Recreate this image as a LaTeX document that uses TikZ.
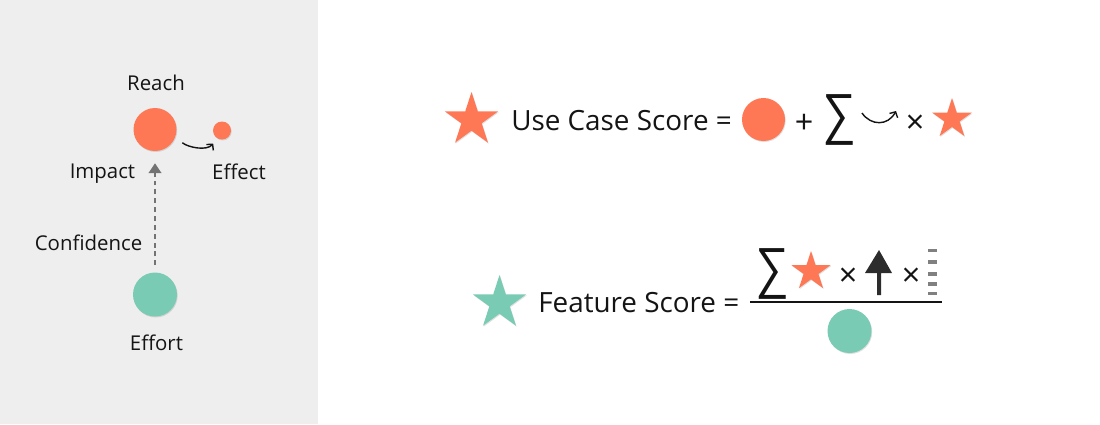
\documentclass[tikz,border=0pt]{standalone}
\usepackage{fontspec}
\setmainfont{Open Sans}
\usetikzlibrary{shapes.geometric,arrows.meta,shadows}
\definecolor{coral}{HTML}{FF7856}
\definecolor{mint}{HTML}{7ACBB3}
\definecolor{panel}{HTML}{EEEEEE}
\definecolor{ink}{HTML}{141414}
\newlength\px
\setlength\px{0.025cm}
\tikzset{
	softshadow/.style={drop shadow={shadow xshift=0.5pt,shadow yshift=-0.7pt,opacity=0.25}},
	dot/.style={circle,fill=#1,inner sep=0pt,softshadow},
	starmark/.style={star,star points=5,star point ratio=2.62,fill=#1,inner sep=0pt,softshadow},
	lbl/.style={font=\fontsize{14.5}{17}\selectfont,text=ink,inner sep=0pt},
	eqtext/.style={font=\fontsize{19.8}{23}\selectfont,text=ink,inner sep=0pt},
	opsign/.style={font=\fontsize{23}{26}\selectfont,text=ink,inner sep=0pt,anchor=base},
	sumsign/.style={font=\fontsize{32}{36}\selectfont,text=ink,inner sep=0pt,yscale=1.18,xscale=1.05},
	swing/.style={draw=ink,line width=1pt,-{Straight Barb[length=3pt,width=6.5pt]}}
}
\begin{document}
\begin{tikzpicture}[x=0.025cm,y=-0.025cm]
	\useasboundingbox (0,0) rectangle (1100,424);
	\fill[panel] (0,0) rectangle (318,424);
	\node[dot=coral,minimum size=43\px] (reach) at (155,129.5) {};
	\node[dot=coral,minimum size=18\px] (effect) at (222,130.5) {};
	\node[dot=mint,minimum size=44\px] (effort) at (155,294.5) {};
	\node[lbl] (reachlbl) at (156,83) {Reach};
	\node[lbl] (impactlbl) at (102.5,174) {Impact};
	\node[lbl] (effectlbl) at (239,172) {Effect};
	\node[lbl] (conflbl) at (88.5,243) {Confidence};
	\node[lbl] (effortlbl) at (156.5,343) {Effort};
	\draw[draw=black!55,line width=1.4pt,dash pattern=on 3.5pt off 2.8pt,shorten <=7\px,shorten >=12\px,-{Triangle[length=7pt,width=9pt]}] (effort) -- (reach);
	\draw[swing,shorten <=9\px,shorten >=6.5\px] (reach.-20) to[out=-40,in=-130] (effect.-120);
	\node[starmark=coral,minimum size=56\px] (ucstar) at (471.5,120) {};
	\node[eqtext,anchor=base west] (uctext) at (511,130) {Use Case Score =};
	\node[dot=coral,minimum size=43\px] (ucreach) at (763.5,119.5) {};
	\node[opsign] (ucplus) at (804,133) {+};
	\node[sumsign] (ucsum) at (839,120) {∑};
	\draw[swing] (862,113) .. controls (871,126) and (888,126) .. (896,111);
	\node[opsign] (uctimes) at (915,133) {×};
	\node[starmark=coral,minimum size=42\px] (ucend) at (952,119) {};
	\node[starmark=mint,minimum size=56\px] (fstar) at (499.5,303) {};
	\node[eqtext,anchor=base west] (ftext) at (538,312) {Feature Score =};
	\draw[ink,line width=1.4pt] (750,302) -- (942,302);
	\node[sumsign] (fsum) at (772,274) {∑};
	\node[starmark=coral,minimum size=41\px] (fucstar) at (811,271.5) {};
	\node[opsign] (ftimesa) at (848,286) {×};
	\fill[ink!90] (877,295) rectangle (881,270) (865,273) -- (879,250) -- (892,273) -- cycle;
	\node[opsign] (ftimesb) at (911,286) {×};
	\foreach \y/\h in {249/3,260/4,272/4,282/4,292/3}
		\fill[black!50] (928,\y) rectangle ++(9,\h);
	\node[dot=mint,minimum size=44\px] (feffort) at (849.5,331) {};
\end{tikzpicture}
\end{document}
